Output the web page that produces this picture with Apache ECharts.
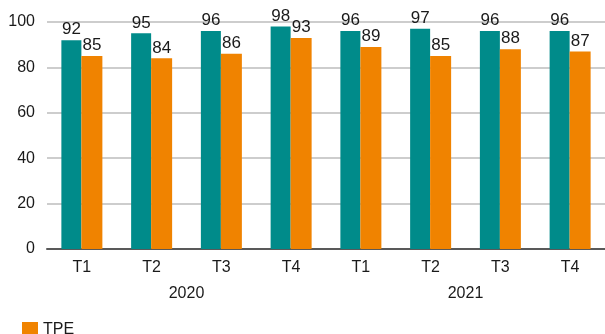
<!DOCTYPE html>
<html>
<head>
<meta charset="utf-8">
<script src="https://cdn.jsdelivr.net/npm/echarts@6/dist/echarts.min.js"></script>
<style>
  html, body { margin: 0; padding: 0; background: #fff; }
  #chart { width: 605px; height: 334px; }
</style>
</head>
<body>
<div id="chart"></div>
<script>
const quarters = ['T1', 'T2', 'T3', 'T4', 'T1', 'T2', 'T3', 'T4']
const years = ['2020', '2021']
const otherValues = [92, 95, 96, 98, 96, 97, 96, 96]
const tpeValues = [85, 84, 86, 93, 89, 85, 88, 87]
const yTicks = [0, 20, 40, 60, 80, 100]

const font = '"Liberation Sans", Arial, sans-serif'
const ink = '#1a1a1a'

const chart = echarts.init(document.getElementById('chart'))

const labelStyle = {
  show: true,
  position: 'top',
  distance: 2,
  color: ink,
  fontFamily: font,
  fontSize: 17
}

chart.setOption({
  animation: false,
  grid: { left: 47, top: 22, width: 568, bottom: 85 },
  legend: {
    data: ['TPE'],
    left: 17,
    top: 317,
    itemWidth: 16,
    itemHeight: 16,
    icon: 'rect',
    textStyle: { fontFamily: font, fontSize: 16, color: ink }
  },
  xAxis: [
    {
      type: 'category',
      data: quarters,
      axisLine: { lineStyle: { color: '#595959', width: 2 } },
      axisTick: { show: false },
      axisLabel: { fontFamily: font, fontSize: 16, color: ink, margin: 11 }
    },
    {
      type: 'category',
      data: years,
      position: 'bottom',
      offset: 26,
      axisLine: { show: false },
      axisTick: { show: false },
      axisLabel: { fontFamily: font, fontSize: 16, color: ink, margin: 11 }
    }
  ],
  yAxis: {
    type: 'value',
    min: yTicks[0],
    max: yTicks[yTicks.length - 1],
    interval: 20,
    axisLine: { show: false },
    axisTick: { show: false },
    axisLabel: { fontFamily: font, fontSize: 16, color: ink, margin: 12 },
    splitLine: { lineStyle: { color: '#bdbdbd', width: 1.5 } }
  },
  series: [
    {
      name: 'Autre',
      type: 'bar',
      data: otherValues,
      barWidth: 20,
      barGap: '0%',
      itemStyle: { color: '#008B8A' },
      label: labelStyle
    },
    {
      name: 'TPE',
      type: 'bar',
      data: tpeValues,
      barWidth: 21,
      itemStyle: { color: '#F08300' },
      label: labelStyle
    }
  ]
})
</script>
</body>
</html>
